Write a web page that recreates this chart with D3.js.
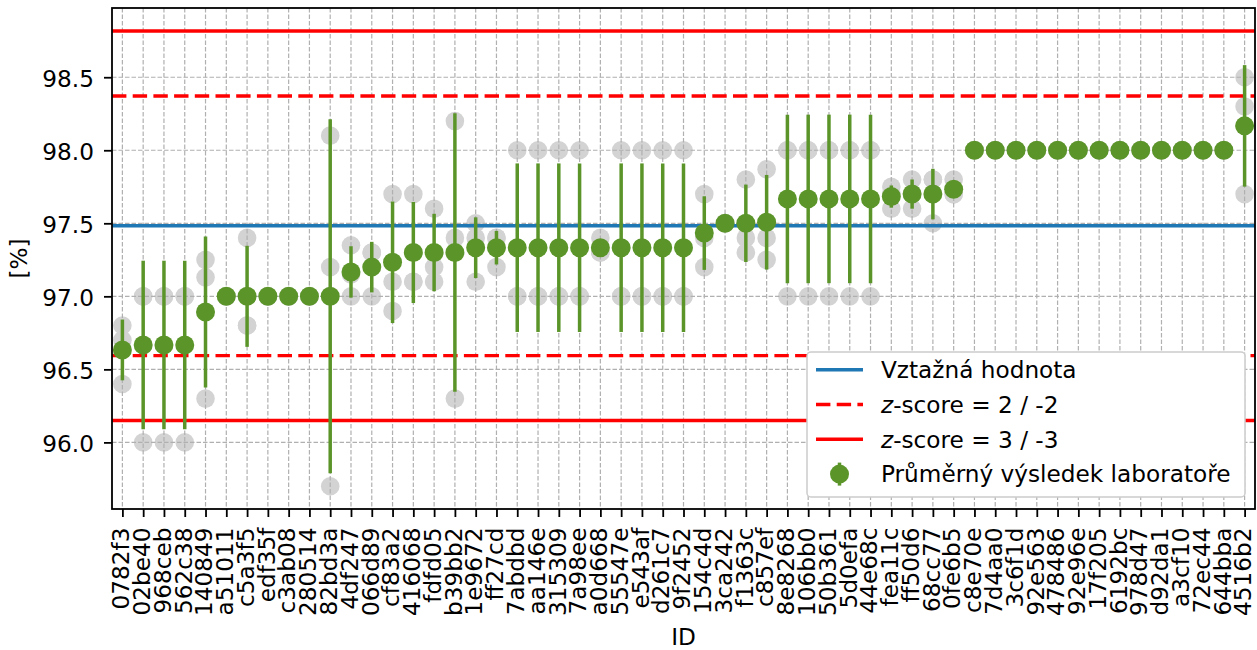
<!DOCTYPE html>
<html>
<head>
<meta charset="utf-8">
<script src="https://cdn.jsdelivr.net/npm/d3@7"></script>
<style>
  html, body { margin: 0; padding: 0; background: #fff; }
  svg { display: block; font-family: "DejaVu Sans", sans-serif; }
</style>
</head>
<body>
<svg id="chart" width="1257" height="650"></svg>
<script>
// ---------------- data ----------------
const labs = ["0782f3","02be40","968ceb","562c38","140849","a51011","c5a3f5","edf35f","c3ab08","280514",
  "82bd3a","4df247","066d89","cf83a2","416068","fdfd05","b39bb2","1e9672","ff27cd","7abdbd",
  "aa146e","315309","7a98ee","a0d668","55547e","e543af","d261c7","9f2452","154c4d","3ca242",
  "f1363c","c857ef","8e8268","106bb0","50b361","5d0efa","44e68c","fea11c","ff50d6","68cc77",
  "0fe6b5","c8e70e","7d4aa0","3c6f1d","92e563","478486","92e96e","17f205","6192bc","978d47",
  "d92da1","a3cf10","72ec44","644bba","4516b2"];

const means = [96.633,96.667,96.667,96.667,96.893,97.0,97.0,97.0,97.0,97.0,
  97.0,97.167,97.2,97.233,97.3,97.3,97.3,97.333,97.333,97.333,
  97.333,97.333,97.333,97.333,97.333,97.333,97.333,97.333,97.433,97.5,
  97.5,97.507,97.667,97.667,97.667,97.667,97.667,97.683,97.7,97.7,
  97.733,98.0,98.0,98.0,98.0,98.0,98.0,98.0,98.0,98.0,
  98.0,98.0,98.0,98.0,98.167];

const sds = [0.208,0.577,0.577,0.577,0.517,0,0.346,0,0,0,
  1.212,0.176,0.173,0.416,0.346,0.265,0.954,0.208,0.115,0.577,
  0.577,0.577,0.577,0.058,0.577,0.577,0.577,0.577,0.252,0,
  0.265,0.324,0.577,0.577,0.577,0.577,0.577,0.076,0.1,0.173,
  0.058,0,0,0,0,0,0,0,0,0,
  0,0,0,0,0.416];

const results = [
  [96.8,96.7,96.4],[97,97,96],[97,97,96],[97,97,96],[97.25,97.13,96.3],
  [97,97,97],[97.4,96.8,96.8],[97,97,97],[97,97,97],[97,97,97],
  [98.1,97.2,95.7],[97.35,97.15,97.0],[97.3,97.3,97.0],[97.7,97.1,96.9],[97.7,97.1,97.1],
  [97.6,97.2,97.1],[98.2,97.4,96.3],[97.5,97.4,97.1],[97.4,97.4,97.2],[98,97,97],
  [98,97,97],[98,97,97],[98,97,97],[97.4,97.3,97.3],[98,97,97],
  [98,97,97],[98,97,97],[98,97,97],[97.7,97.4,97.2],[97.5,97.5,97.5],
  [97.8,97.4,97.3],[97.87,97.4,97.25],[98,98,97],[98,98,97],[98,98,97],
  [98,98,97],[98,98,97],[97.75,97.7,97.6],[97.8,97.7,97.6],[97.8,97.8,97.5],
  [97.8,97.7,97.7],[98,98,98],[98,98,98],[98,98,98],[98,98,98],
  [98,98,98],[98,98,98],[98,98,98],[98,98,98],[98,98,98],
  [98,98,98],[98,98,98],[98,98,98],[98,98,98],[98.5,98.3,97.7]
];

const refValue = 97.483;
const sigma = 0.4445;
const yLimits = [95.544, 98.974];
const yTicks = [96.0, 96.5, 97.0, 97.5, 98.0, 98.5];
const legendLabels = ["Vztažná hodnota", "z-score = 2 / -2", "z-score = 3 / -3", "Průměrný výsledek laboratoře"];
const xTitle = "ID";
const yTitle = "[%]";

// ---------------- layout ----------------
const L = 112, R = 1255, T = 8, B = 509;
const GREEN = "#5b9529", GREY = "#d3d3d3", BLUE = "#1f77b4", RED = "#ff0000";
const FS = 23.2;

const svg = d3.select("#chart");
const x = d3.scalePoint().domain(labs).range([L, R]).padding(0.5);
const y = d3.scaleLinear().domain(yLimits).range([B, T]);

// clip
svg.append("defs").append("clipPath").attr("id", "plotclip")
  .append("rect").attr("x", L).attr("y", T).attr("width", R - L).attr("height", B - T);

const plot = svg.append("g").attr("clip-path", "url(#plotclip)");

// individual results (grey)
const flat = [];
results.forEach((arr, i) => arr.forEach(v => flat.push({ id: labs[i], v })));
plot.append("g").selectAll("circle").data(flat).join("circle")
  .attr("cx", d => x(d.id)).attr("cy", d => y(d.v)).attr("r", 9.3)
  .attr("fill", GREY);

// grid
const grid = plot.append("g").attr("stroke", "#b0b0b0").attr("stroke-width", 1.2)
  .attr("stroke-dasharray", "4.5,2");
grid.selectAll("line.gx").data(labs).join("line").attr("class", "gx")
  .attr("x1", d => x(d)).attr("x2", d => x(d)).attr("y1", T).attr("y2", B);
grid.selectAll("line.gy").data(yTicks).join("line").attr("class", "gy")
  .attr("x1", L).attr("x2", R).attr("y1", d => y(d)).attr("y2", d => y(d));

// reference & z-score lines
const hlines = [
  { v: refValue, c: BLUE, dash: null },
  { v: refValue + 2 * sigma, c: RED, dash: "14.4,6.3" },
  { v: refValue - 2 * sigma, c: RED, dash: "14.4,6.3" },
  { v: refValue + 3 * sigma, c: RED, dash: null },
  { v: refValue - 3 * sigma, c: RED, dash: null }
];
plot.append("g").selectAll("line").data(hlines).join("line")
  .attr("x1", L).attr("x2", R).attr("y1", d => y(d.v)).attr("y2", d => y(d.v))
  .attr("stroke", d => d.c).attr("stroke-width", 3.4)
  .attr("stroke-dasharray", d => d.dash);

// error bars + means
const eb = plot.append("g");
eb.selectAll("line").data(labs).join("line")
  .attr("x1", d => x(d)).attr("x2", d => x(d))
  .attr("y1", (d, i) => y(means[i] - sds[i])).attr("y2", (d, i) => y(means[i] + sds[i]))
  .attr("stroke", GREEN).attr("stroke-width", 3.5);
eb.selectAll("circle").data(labs).join("circle")
  .attr("cx", d => x(d)).attr("cy", (d, i) => y(means[i])).attr("r", 9.5)
  .attr("fill", GREEN);

// axes
const yAxis = svg.append("g").attr("transform", `translate(${L},0)`)
  .call(d3.axisLeft(y).tickValues(yTicks).tickFormat(d3.format(".1f")).tickSize(8).tickPadding(10));
yAxis.select(".domain").remove();
yAxis.selectAll(".tick line").attr("stroke", "#000").attr("stroke-width", 1.8);
yAxis.selectAll(".tick text").attr("font-size", FS).attr("fill", "#000")
  .attr("font-family", "DejaVu Sans").attr("dy", "0.4em");

const xAxis = svg.append("g").attr("transform", `translate(0,${B})`)
  .call(d3.axisBottom(x).tickSize(8));
xAxis.select(".domain").remove();
xAxis.selectAll(".tick line").attr("stroke", "#000").attr("stroke-width", 1.8);
xAxis.selectAll(".tick text").attr("font-size", FS).attr("fill", "#000")
  .attr("font-family", "DejaVu Sans")
  .attr("transform", "rotate(-90)")
  .attr("text-anchor", "end")
  .attr("x", -18.5).attr("y", 0).attr("dy", "0.27em");

// spines
svg.append("rect").attr("x", L).attr("y", T).attr("width", R - L).attr("height", B - T)
  .attr("fill", "none").attr("stroke", "#000").attr("stroke-width", 1.8);

// axis titles
svg.append("text").attr("x", (L + R) / 2).attr("y", 645).attr("text-anchor", "middle")
  .attr("font-size", FS).text(xTitle);
svg.append("text").attr("transform", `translate(27,${(T + B) / 2}) rotate(-90)`)
  .attr("text-anchor", "middle").attr("font-size", FS).text(yTitle);

// legend
const lg = svg.append("g");
lg.append("rect").attr("x", 807).attr("y", 352).attr("width", 438).attr("height", 145)
  .attr("rx", 4).attr("fill", "#fff").attr("stroke", "#cccccc").attr("stroke-width", 1.5);
const rowBase = [378, 412.8, 447.6, 482.4];
const hx1 = 816, hx2 = 863, tx = 881;
lg.append("line").attr("x1", hx1).attr("x2", hx2).attr("y1", rowBase[0] - 8.3).attr("y2", rowBase[0] - 8.3)
  .attr("stroke", BLUE).attr("stroke-width", 3.4);
lg.append("line").attr("x1", hx1).attr("x2", hx2).attr("y1", rowBase[1] - 8.3).attr("y2", rowBase[1] - 8.3)
  .attr("stroke", RED).attr("stroke-width", 3.4).attr("stroke-dasharray", "14.4,6.3");
lg.append("line").attr("x1", hx1).attr("x2", hx2).attr("y1", rowBase[2] - 8.3).attr("y2", rowBase[2] - 8.3)
  .attr("stroke", RED).attr("stroke-width", 3.4);
const mx = (hx1 + hx2) / 2, my = rowBase[3] - 8.3;
lg.append("line").attr("x1", mx).attr("x2", mx).attr("y1", my - 11.5).attr("y2", my + 11.5)
  .attr("stroke", GREEN).attr("stroke-width", 3.5);
lg.append("circle").attr("cx", mx).attr("cy", my).attr("r", 9.5).attr("fill", GREEN);

legendLabels.forEach((lab, i) => {
  const t = lg.append("text").attr("x", tx).attr("y", rowBase[i]).attr("font-size", FS).attr("fill", "#000");
  if (lab.startsWith("z-score")) {
    t.append("tspan").attr("font-style", "italic").text("z");
    t.append("tspan").text(lab.slice(1));
  } else {
    t.text(lab);
  }
});
</script>
</body>
</html>
